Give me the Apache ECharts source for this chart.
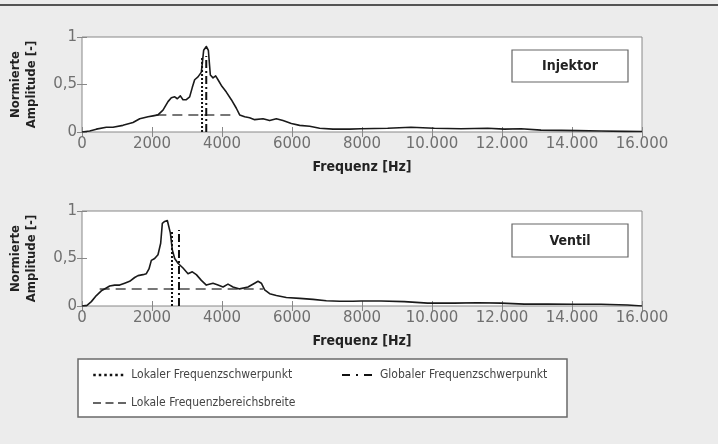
<!DOCTYPE html>
<html><head><meta charset="utf-8">
<script src="https://cdn.jsdelivr.net/npm/echarts@6/dist/echarts.min.js"></script>
<style>html,body{margin:0;padding:0;background:#ececec}#c{width:718px;height:444px}</style>
</head><body><div id="c"></div>
<script>
// ---- data ----
const injektorFreq = [0,220,410,695,885,1170,1457,1650,1886,2030,2170,2314,2457,2552,2650,2724,2810,2886,2980,3076,3152,3219,3314,3410,3476,3552,3610,3667,3743,3819,3886,3981,4124,4267,4410,4505,4648,4790,4933,5171,5362,5552,5743,5981,6219,6505,6790,7171,7648,7971,8733,9400,10067,10829,11590,12067,12543,13114,13686,14160,14829,15495,16000];
const injektorAmp  = [0,0.01,0.03,0.05,0.05,0.07,0.10,0.14,0.16,0.17,0.18,0.23,0.32,0.36,0.37,0.35,0.38,0.34,0.34,0.37,0.47,0.55,0.58,0.63,0.86,0.90,0.86,0.60,0.57,0.59,0.55,0.49,0.42,0.34,0.25,0.18,0.16,0.15,0.13,0.14,0.12,0.14,0.12,0.09,0.07,0.06,0.04,0.03,0.03,0.035,0.04,0.05,0.04,0.035,0.04,0.03,0.035,0.02,0.017,0.014,0.01,0.007,0.005];
const ventilFreq = [0,143,267,410,552,695,790,933,1076,1219,1362,1505,1600,1743,1838,1914,1981,2076,2171,2248,2295,2362,2438,2486,2524,2581,2648,2743,2886,3029,3152,3267,3410,3552,3743,3886,4029,4171,4314,4505,4743,4933,5029,5124,5219,5362,5552,5838,6219,6600,6981,7362,7743,7971,8543,9210,9876,10638,11305,11971,12638,13305,14067,14829,15590,16000];
const ventilAmp  = [0,0.007,0.046,0.11,0.16,0.19,0.21,0.22,0.22,0.24,0.26,0.30,0.32,0.33,0.34,0.39,0.48,0.50,0.54,0.66,0.87,0.89,0.90,0.89,0.77,0.59,0.50,0.45,0.40,0.34,0.36,0.33,0.27,0.22,0.24,0.22,0.20,0.23,0.20,0.18,0.20,0.24,0.26,0.24,0.17,0.13,0.11,0.09,0.08,0.07,0.056,0.05,0.05,0.053,0.053,0.046,0.03,0.03,0.035,0.03,0.02,0.02,0.018,0.018,0.01,0.0];

const injektorLokal = 3430, injektorGlobal = 3550, injektorBreite = [2124, 4410];
const ventilLokal = 2571, ventilGlobal = 2771, ventilBreite = [505, 5171];
const markerTop = 0.8, breiteLevel = 0.18;

const panelLabels = ['Injektor', 'Ventil'];
const legendNames = ['Lokaler Frequenzschwerpunkt', 'Globaler Frequenzschwerpunkt', 'Lokale Frequenzbereichsbreite'];
const xAxisTitle = 'Frequenz [Hz]';
const yAxisTitle = 'Normierte\nAmplitude [-]';
const xMin = 0, xMax = 16000, xStep = 2000;
const yMin = 0, yMax = 1, yStep = 0.5;

// ---- chart ----
const NARROW = "'Liberation Sans Narrow','DejaVu Sans Condensed',sans-serif";
const TICKFONT = "'DejaVu Sans',sans-serif";
const pair = (xs, ys) => xs.map((x, i) => [x, ys[i]]);
const fmtX = v => v >= 10000 ? Math.floor(v / 1000) + '.' + String(v % 1000).padStart(3, '0') : String(v);
const fmtY = v => String(v).replace('.', ',');

const grids = [
  { left: 82, top: 37, width: 560, height: 95 },
  { left: 82, top: 211, width: 560, height: 95 }
];

const xAxes = [], yAxes = [];
grids.forEach((g, gi) => {
  xAxes.push({
    type: 'value', gridIndex: gi, min: xMin, max: xMax, interval: xStep, position: 'bottom',
    name: xAxisTitle, nameLocation: 'middle', nameGap: 28,
    nameTextStyle: { fontFamily: NARROW, fontWeight: 'bold', fontSize: 14, color: '#222' },
    axisLine: { show: false }, splitLine: { show: false },
    axisTick: { inside: true, length: 5, lineStyle: { color: '#888' } },
    axisLabel: { formatter: fmtX, fontFamily: TICKFONT, fontSize: 15, color: '#707070', margin: 5 }
  });
  xAxes.push({
    type: 'value', gridIndex: gi, min: xMin, max: xMax, interval: xStep, position: 'top',
    axisLine: { show: false }, splitLine: { show: false },
    axisTick: { inside: true, length: 5, lineStyle: { color: '#888' } },
    axisLabel: { show: false }
  });
  yAxes.push({
    type: 'value', gridIndex: gi, min: yMin, max: yMax, interval: yStep, position: 'left',
    name: yAxisTitle, nameLocation: 'middle', nameGap: 42, nameRotate: 90,
    nameTextStyle: { fontFamily: NARROW, fontWeight: 'bold', fontSize: 13, lineHeight: 16, color: '#222' },
    axisLine: { show: false }, splitLine: { show: false },
    axisTick: { inside: true, length: 5, lineStyle: { color: '#888' } },
    axisLabel: { formatter: fmtY, fontFamily: TICKFONT, fontSize: 15, color: '#707070', margin: 5 }
  });
  yAxes.push({
    type: 'value', gridIndex: gi, min: yMin, max: yMax, interval: yStep, position: 'right',
    axisLine: { show: false }, splitLine: { show: false },
    axisTick: { inside: true, length: 5, lineStyle: { color: '#888' } },
    axisLabel: { show: false }
  });
});

const panels = [
  { freq: injektorFreq, amp: injektorAmp, lokal: injektorLokal, global: injektorGlobal, breite: injektorBreite },
  { freq: ventilFreq, amp: ventilAmp, lokal: ventilLokal, global: ventilGlobal, breite: ventilBreite }
];
const series = [];
panels.forEach((p, gi) => {
  const xi = gi * 2, yi = gi * 2;
  series.push({
    type: 'line', name: 'Spektrum ' + panelLabels[gi], xAxisIndex: xi, yAxisIndex: yi,
    data: pair(p.freq, p.amp), showSymbol: false, symbol: 'none',
    lineStyle: { color: '#1a1a1a', width: 1.6, join: 'round' }, z: 3
  });
  series.push({
    type: 'line', name: legendNames[2], xAxisIndex: xi, yAxisIndex: yi,
    data: [[p.breite[0], breiteLevel], [p.breite[1], breiteLevel]], symbol: 'none',
    lineStyle: { color: '#777', width: 2, type: [10, 6] }, itemStyle: { color: '#777' }, z: 2
  });
  series.push({
    type: 'line', name: legendNames[0], xAxisIndex: xi, yAxisIndex: yi,
    data: [[p.lokal, 0], [p.lokal, markerTop]], symbol: 'none',
    lineStyle: { color: '#111', width: 2, type: [2, 2] }, itemStyle: { color: '#111' }, z: 4
  });
  series.push({
    type: 'line', name: legendNames[1], xAxisIndex: xi, yAxisIndex: yi,
    data: [[p.global, 0], [p.global, markerTop]], symbol: 'none',
    lineStyle: { color: '#111', width: 2, type: [8, 3, 2, 3] }, itemStyle: { color: '#111' }, z: 4
  });
});

const legendText = { fontFamily: NARROW, fontSize: 12, color: '#444' };
const legendBase = { padding: 0, itemWidth: 33, itemHeight: 12, itemGap: 0, textStyle: legendText,
  selectedMode: false, z: 10, itemStyle: { opacity: 0 } };
const legendStyles = [
  { color: '#111', width: 2.5, type: [2.5, 3], cap: 'butt' },
  { color: '#111', width: 2, type: [8, 6, 2, 6], cap: 'butt' },
  { color: '#666', width: 2, type: [8, 4.5], cap: 'butt' }
];
const legendPos = [[92, 369], [341, 369], [92, 397]];
const option = {
  backgroundColor: '#ececec',
  animation: false,
  grid: grids.map(g => Object.assign({ show: true, backgroundColor: '#fff', borderColor: '#888', borderWidth: 1 }, g)),
  xAxis: xAxes,
  yAxis: yAxes,
  legend: legendNames.map((n, i) => Object.assign({}, legendBase, {
    left: legendPos[i][0], top: legendPos[i][1], data: [{ name: n }], lineStyle: legendStyles[i]
  })),
  graphic: [
    { type: 'line', shape: { x1: 0, y1: 5, x2: 718, y2: 5 }, style: { stroke: '#222', lineWidth: 1.5 }, z: 1 },
    { type: 'rect', shape: { x: 78, y: 359, width: 489, height: 58 }, style: { fill: '#fff', stroke: '#6a6a6a', lineWidth: 1.5 }, z: 0 },
    { type: 'rect', shape: { x: 512, y: 50, width: 116, height: 32 }, style: { fill: '#fff', stroke: '#666', lineWidth: 1.2 }, z: 20 },
    { type: 'text', x: 570, y: 66, style: { text: panelLabels[0], font: "bold 14px 'Liberation Sans Narrow','DejaVu Sans Condensed', sans-serif", fill: '#222', textAlign: 'center', textVerticalAlign: 'middle' }, z: 21 },
    { type: 'rect', shape: { x: 512, y: 224, width: 116, height: 33 }, style: { fill: '#fff', stroke: '#666', lineWidth: 1.2 }, z: 20 },
    { type: 'text', x: 570, y: 241, style: { text: panelLabels[1], font: "bold 14px 'Liberation Sans Narrow','DejaVu Sans Condensed', sans-serif", fill: '#222', textAlign: 'center', textVerticalAlign: 'middle' }, z: 21 }
  ],
  series: series
};
const chart = echarts.init(document.getElementById('c'), null, { renderer: 'canvas' });
chart.setOption(option);
</script></body></html>
